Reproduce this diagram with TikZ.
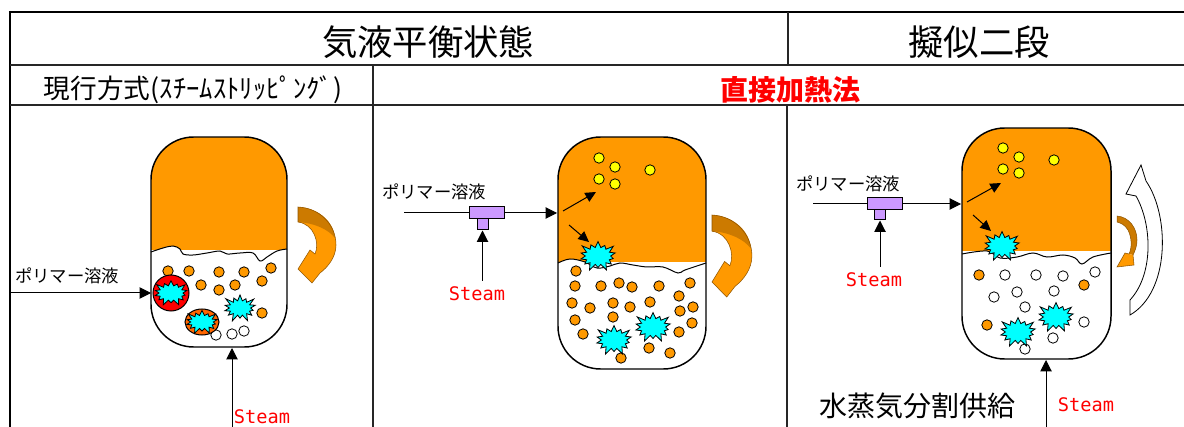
\documentclass[tikz,border=0pt]{standalone}
\usepackage{fontspec}
\setmainfont{Noto Sans CJK JP}
\newfontfamily\steamfont{DejaVu Sans Mono}
\usetikzlibrary{arrows.meta,shapes.symbols}

\definecolor{gasorange}{RGB}{255,153,0}
\definecolor{ribbondark}{RGB}{204,122,0}
\definecolor{lilac}{RGB}{204,153,255}
\definecolor{shellorange}{RGB}{255,102,0}
\definecolor{shellred}{RGB}{255,0,0}
\definecolor{burstcyan}{RGB}{0,255,255}
\definecolor{vapouryellow}{RGB}{255,255,0}
\definecolor{steamred}{RGB}{255,0,0}

\tikzset{every picture/.style={line width=0.75pt}}
\tikzset{
  frame/.style={line width=2.2pt},
  grid/.style={line width=0.9pt, black!85},
  vessel/.style={line width=1.1pt, rounded corners=32pt},
  drop/.style={draw=black, fill=gasorange, line width=0.6pt},
  bubble/.style={draw=black, fill=white, line width=0.6pt},
  vapour/.style={draw=black, fill=vapouryellow, line width=0.6pt},
  burst/.style={starburst, draw=black, fill=burstcyan, line width=0.6pt, inner sep=0pt,
    starburst points=14, starburst point height=6pt,
    minimum width=31pt, minimum height=25pt},
  flow/.style={-{Triangle[length=8.5pt,width=8.5pt]}},
  jet/.style={-{Triangle[length=8pt,width=7.5pt]}},
  tee/.style={rectangle, draw=black, fill=lilac, inner sep=0pt},
  ribbonedge/.style={draw=ribbondark!70!black, line width=0.4pt},
  headtxt/.style={font=\fontsize{26.5}{30}\selectfont},
  subtxt/.style={font=\fontsize{20}{24}\selectfont},
  redtxt/.style={font=\fontsize{21}{25}\selectfont\bfseries, text=steamred},
  feedtxt/.style={font=\fontsize{13}{15}\selectfont},
  steamtxt/.style={font={\steamfont\fontsize{14}{16}\selectfont}, text=steamred},
  splittxt/.style={font=\fontsize{21}{25}\selectfont}
}

\begin{document}
\begin{tikzpicture}[x=0.75pt,y=0.75pt,yscale=-1,xscale=1]
\useasboundingbox (0,0) rectangle (1184,427);

%Table frame
\draw[frame] (8.9,12) -- (1184,12);
\draw[frame] (10,10.9) -- (10,427);
\draw[grid] (10,65) -- (1184,65);
\draw[grid] (10,105) -- (1184,105);
\draw[grid] (788,12) -- (788,65);
\draw[grid] (373,65) -- (373,427);
\draw[grid] (787,105) -- (787,427);

% Text Node
\node[headtxt] (gasliq) at (428,42) {気液平衡状態};
% Text Node
\node[headtxt] (pseudo) at (979,42) {擬似二段};
% Text Node
\node[subtxt] (current) at (193,90) {現行方式(ｽﾁｰﾑｽﾄﾘｯﾋﾟﾝｸﾞ)};
% Text Node
\node[redtxt] (direct) at (790,90) {直接加熱法};

%%%%%%%% left vessel %%%%%%%%
\begin{scope}
\clip[rounded corners=32pt] (151,137) rectangle (287,347);
\fill[gasorange] (151,137) rectangle (287,250);
\fill[white] plot[smooth,tension=0.6] coordinates {(151,252) (163,248) (173,246) (180,249) (183,254) (193,255) (207,253) (220,251) (227,254) (240,253) (253,253) (260,261) (267,257) (277,251) (287,249)} -- (290,275) -- (148,275) -- cycle;
\end{scope}
%Curve Lines: liquid surface
\draw plot[smooth,tension=0.6] coordinates {(151,252) (163,248) (173,246) (180,249) (183,254) (193,255) (207,253) (220,251) (227,254) (240,253) (253,253) (260,261) (267,257) (277,251) (287,249)};
%Shape: Vessel
\draw[vessel] (151,137) rectangle (287,347);

%Shape: Circle
\draw[drop] (168,271) circle (5.2);
\draw[drop] (189,271) circle (5.2);
\draw[drop] (219,272) circle (5.2);
\draw[drop] (244,272) circle (5.2);
\draw[drop] (271,268) circle (5.2);
\draw[drop] (201,285) circle (5.2);
\draw[drop] (219,290) circle (5.2);
\draw[drop] (235,285) circle (5.2);
\draw[drop] (262,281) circle (5.2);
\draw[drop] (262,313) circle (5.2);
\draw[bubble] (216,335) circle (5.2);
\draw[bubble] (232,334) circle (5.2);
\draw[bubble] (244,331) circle (5.2);

%Shape: Shells
\draw[fill=shellred] (171,293) circle (18);
\draw[fill=shellorange] (202,322) ellipse (17 and 13);
\node[burst, minimum width=28pt, minimum height=21pt, starburst point height=5pt] (burstA1) at (171,293) {};
\node[burst, minimum width=27pt, minimum height=20pt, starburst point height=5pt] (burstA2) at (202,322) {};
\node[burst, minimum width=28pt, minimum height=23pt] (burstA3) at (240,308) {};

%Shape: Curved Arrow
\begin{scope}[shift={(298,207)}]
\fill[gasorange] (0,0) .. controls (22,1) and (38,18) .. (38,38) .. controls (38,50) and (30,60) .. (22,66) -- (14,76) -- (0,62) -- (12,43) -- (17,47) .. controls (22,36) and (16,17) .. (0,15) -- cycle;
\fill[ribbondark] (0,0) .. controls (22,1) and (36,16) .. (37,31) .. controls (30,22) and (16,16) .. (0,15) -- cycle;
\draw[ribbonedge] (0,0) .. controls (22,1) and (38,18) .. (38,38) .. controls (38,50) and (30,60) .. (22,66) -- (14,76) -- (0,62) -- (12,43) -- (17,47) .. controls (22,36) and (16,17) .. (0,15) -- cycle;
\end{scope}

%Straight Lines: feed and steam
\coordinate (feedA) at (10,293);
\coordinate (inletA) at (151,293);
\draw[flow] (feedA) -- (inletA);
\coordinate (steamA) at (232,427);
\coordinate (bottomA) at (232,348);
\draw[flow] (steamA) -- (bottomA);
% Text Node
\node[feedtxt] (polyA) at (67,276) {ポリマー溶液};
% Text Node
\node[steamtxt] (steamlblA) at (262,417) {Steam};

%%%%%%%% middle vessel %%%%%%%%
\begin{scope}
\clip[rounded corners=32pt] (558,137) rectangle (706,369);
\fill[gasorange] (558,137) rectangle (706,262);
\fill[white] plot[smooth,tension=0.6] coordinates {(558,263) (570,259) (585,262) (597,268) (610,266) (620,263) (633,265) (647,267) (663,267) (678,273) (685,270) (706,263)} -- (710,290) -- (554,290) -- cycle;
\end{scope}
%Curve Lines: liquid surface
\draw plot[smooth,tension=0.6] coordinates {(558,263) (570,259) (585,262) (597,268) (610,266) (620,263) (633,265) (647,267) (663,267) (678,273) (685,270) (706,263)};
%Shape: Vessel
\draw[vessel] (558,137) rectangle (706,369);

%Shape: Circle
\draw[vapour] (599,158) circle (5.2);
\draw[vapour] (615,167) circle (5.2);
\draw[vapour] (599,179) circle (5.2);
\draw[vapour] (615,184) circle (5.2);
\draw[vapour] (650,170) circle (5.2);
\draw[drop] (576,271) circle (5.2);
\draw[drop] (575,286) circle (5.2);
\draw[drop] (601,286) circle (5.2);
\draw[drop] (619,283) circle (5.2);
\draw[drop] (632,287) circle (5.2);
\draw[drop] (659,286) circle (5.2);
\draw[drop] (690,283) circle (5.2);
\draw[drop] (572,303) circle (5.2);
\draw[drop] (590,308) circle (5.2);
\draw[drop] (613,303) circle (5.2);
\draw[drop] (630,307) circle (5.2);
\draw[drop] (650,302) circle (5.2);
\draw[drop] (679,296) circle (5.2);
\draw[drop] (680,311) circle (5.2);
\draw[drop] (693,307) circle (5.2);
\draw[drop] (575,320) circle (5.2);
\draw[drop] (613,317) circle (5.2);
\draw[drop] (692,323) circle (5.2);
\draw[drop] (583,334) circle (5.2);
\draw[drop] (679,332) circle (5.2);
\draw[drop] (649,348) circle (5.2);
\draw[drop] (670,353) circle (5.2);
\draw[drop] (621,358) circle (5.2);

\node[burst] (burstB1) at (598,256) {};
\node[burst] (burstB2) at (653,327) {};
\node[burst] (burstB3) at (614,340) {};

%Shape: Curved Arrow
\begin{scope}[shift={(712,215)},xscale=1.05,yscale=1.08]
\fill[gasorange] (0,0) .. controls (22,1) and (38,18) .. (38,38) .. controls (38,50) and (30,60) .. (22,66) -- (14,76) -- (0,62) -- (12,43) -- (17,47) .. controls (22,36) and (16,17) .. (0,15) -- cycle;
\fill[ribbondark] (0,0) .. controls (22,1) and (36,16) .. (37,31) .. controls (30,22) and (16,16) .. (0,15) -- cycle;
\draw[ribbonedge] (0,0) .. controls (22,1) and (38,18) .. (38,38) .. controls (38,50) and (30,60) .. (22,66) -- (14,76) -- (0,62) -- (12,43) -- (17,47) .. controls (22,36) and (16,17) .. (0,15) -- cycle;
\end{scope}

%Shape: Tee
\node[tee, minimum width=8.25pt, minimum height=8.25pt] (stubB) at (482.5,224.5) {};
\node[tee, minimum width=26.25pt, minimum height=9pt] (teeB) at (486.5,213) {};
%Straight Lines: feed and steam
\coordinate (feedB) at (404,213);
\coordinate (inletB) at (557,213);
\draw (feedB) -- (teeB);
\draw[flow] (teeB) -- (inletB);
\coordinate (steamB) at (482.5,281);
\draw[flow] (steamB) -- (stubB);
\coordinate (jetB1) at (563,211);
\coordinate (jetB2) at (596,192);
\draw[jet] (jetB1) -- (jetB2);
\coordinate (jetB3) at (569,225);
\coordinate (jetB4) at (589,242);
\draw[jet] (jetB3) -- (jetB4);
% Text Node
\node[feedtxt] (polyB) at (434,192) {ポリマー溶液};
% Text Node
\node[steamtxt] (steamlblB) at (477,294) {Steam};

%%%%%%%% right vessel %%%%%%%%
\begin{scope}
\clip[rounded corners=32pt] (962,128) rectangle (1111,359);
\fill[gasorange] (962,128) rectangle (1111,251);
\fill[white] plot[smooth,tension=0.6] coordinates {(962,254) (987,251) (1000,258) (1017,257) (1033,253) (1047,257) (1063,255) (1075,258) (1082,264) (1093,257) (1111,253)} -- (1115,280) -- (958,280) -- cycle;
\end{scope}
%Curve Lines: liquid surface
\draw plot[smooth,tension=0.6] coordinates {(962,254) (987,251) (1000,258) (1017,257) (1033,253) (1047,257) (1063,255) (1075,258) (1082,264) (1093,257) (1111,253)};
%Shape: Vessel
\draw[vessel] (962,128) rectangle (1111,359);

%Shape: Circle
\draw[vapour] (1003,148) circle (5.2);
\draw[vapour] (1019,157) circle (5.2);
\draw[vapour] (1003,169) circle (5.2);
\draw[vapour] (1019,173) circle (5.2);
\draw[vapour] (1054,160) circle (5.2);
\draw[drop] (979,275) circle (5.2);
\draw[drop] (1084,285) circle (5.2);
\draw[drop] (987,325) circle (5.2);
\draw[bubble] (1005,275) circle (5.2);
\draw[bubble] (1036,275) circle (5.2);
\draw[bubble] (1063,276) circle (5.2);
\draw[bubble] (1095,272) circle (5.2);
\draw[bubble] (994,297) circle (5.2);
\draw[bubble] (1017,292) circle (5.2);
\draw[bubble] (1054,291) circle (5.2);
\draw[bubble] (1025,307) circle (5.2);
\draw[bubble] (1084,322) circle (5.2);
\draw[bubble] (1053,338) circle (5.2);
\draw[bubble] (1025,349) circle (5.2);

\node[burst] (burstC1) at (1002,246) {};
\node[burst] (burstC2) at (1056,317) {};
\node[burst] (burstC3) at (1018,332) {};

%Shape: Small Curved Arrow
\begin{scope}[shift={(1117,216)}]
\fill[ribbondark] (0,0) .. controls (12,1) and (20,12) .. (20,24) .. controls (20,30) and (18,35) .. (16,39) -- (12,38) .. controls (15,32) and (15,22) .. (11,14) .. controls (8,9) and (4,7) .. (0,6) -- cycle;
\fill[gasorange] (16,39) -- (17,49) -- (0,51) -- (8,37) -- (12,38) -- cycle;
\draw[ribbonedge] (0,0) .. controls (12,1) and (20,12) .. (20,24) .. controls (20,30) and (18,35) .. (16,39) -- (17,49) -- (0,51) -- (8,37) -- (12,38) .. controls (15,32) and (15,22) .. (11,14) .. controls (8,9) and (4,7) .. (0,6) -- cycle;
\end{scope}

%Shape: White Curved Arrow
\draw[fill=white, line width=0.6pt] (1141,165) -- (1126,194) -- (1136,196) .. controls (1152,224) and (1154,274) .. (1130,300) -- (1130,315) .. controls (1170,292) and (1170,216) .. (1146,181) -- cycle;

%Shape: Tee
\node[tee, minimum width=8.25pt, minimum height=7.5pt] (stubC) at (880,215) {};
\node[tee, minimum width=26.25pt, minimum height=9pt] (teeC) at (884.5,204) {};
%Straight Lines: feed and steam
\coordinate (feedC) at (813,204);
\coordinate (inletC) at (961,204);
\draw (feedC) -- (teeC);
\draw[flow] (teeC) -- (inletC);
\coordinate (steamC) at (880,267);
\draw[flow] (steamC) -- (stubC);
\coordinate (jetC1) at (967,202);
\coordinate (jetC2) at (1001,183);
\draw[jet] (jetC1) -- (jetC2);
\coordinate (jetC3) at (973,215);
\coordinate (jetC4) at (991,231);
\draw[jet] (jetC3) -- (jetC4);
\coordinate (steamC2) at (1046,427);
\coordinate (bottomC) at (1046,360);
\draw[flow] (steamC2) -- (bottomC);
% Text Node
\node[feedtxt] (polyC) at (848,184) {ポリマー溶液};
% Text Node
\node[steamtxt] (steamlblC) at (874,280) {Steam};
% Text Node
\node[steamtxt] (steamlblC2) at (1086,405) {Steam};
% Text Node
\node[splittxt] (split) at (917,406) {水蒸気分割供給};

\end{tikzpicture}
\end{document}
